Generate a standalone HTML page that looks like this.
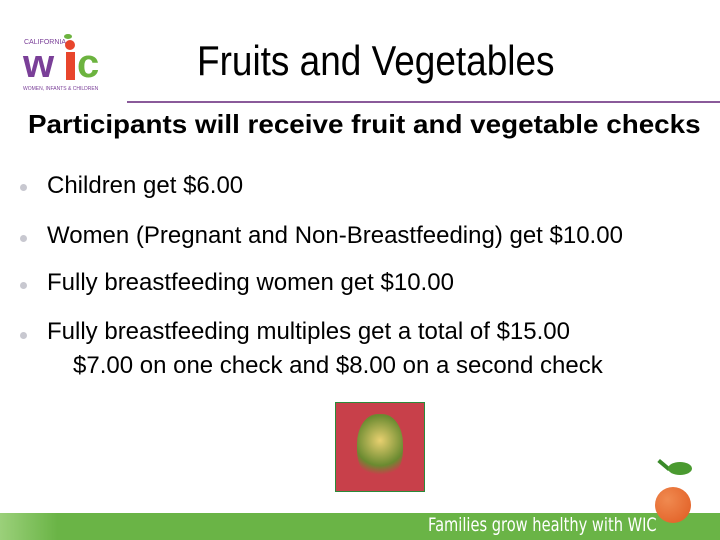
<!DOCTYPE html>
<html><head><meta charset="utf-8"><style>
body{margin:0;width:720px;height:540px;position:relative;overflow:hidden;background:#fff;font-family:"Liberation Sans",sans-serif}
.a{position:absolute;white-space:nowrap}
.b{font-size:24px;color:#000;line-height:28px}
.dot{position:absolute;width:7px;height:7px;border-radius:50%;background:#c8c8d0}
</style></head><body>
<div class="a" style="left:20px;top:30px;width:95px;height:62px">
 <div class="a" style="left:4px;top:9px;font-size:7px;color:#7a3f98">CALIFORNIA</div>
 <div class="a" style="left:44px;top:4px;width:8px;height:5px;background:#6cb33f;border-radius:50%"></div>
 <div class="a" style="left:45px;top:10px;width:10px;height:10px;background:#e8452c;border-radius:50%"></div>
 <div class="a" style="left:3px;top:14px;font-size:40px;font-weight:bold;line-height:40px;color:#7a3f98;letter-spacing:-2px">w</div>
 <div class="a" style="left:46px;top:22px;width:9px;height:28px;background:#e8452c"></div>
 <div class="a" style="left:57px;top:14px;font-size:40px;font-weight:bold;line-height:40px;color:#6cb33f">c</div>
 <div class="a" style="left:3px;top:56px;font-size:5px;color:#7a3f98">WOMEN, INFANTS &amp; CHILDREN</div>
</div>
<div class="a" style="left:197px;top:36px;font-size:42px;line-height:50px;color:#000;transform:scaleX(0.88);transform-origin:left">Fruits and Vegetables</div>
<div class="a" style="left:127px;top:101px;width:593px;height:2px;background:#8a5a9a"></div>
<div class="a" style="left:28px;top:108px;font-size:26px;font-weight:bold;line-height:32px;transform:scaleX(1.07);transform-origin:left">Participants will receive fruit and vegetable checks</div>
<div class="dot" style="left:20px;top:184px"></div><div class="a b" style="left:47px;top:172px">Children get $6.00</div>
<div class="dot" style="left:20px;top:235px"></div><div class="a b" style="left:47px;top:222px">Women (Pregnant and Non-Breastfeeding) get $10.00</div>
<div class="dot" style="left:20px;top:282px"></div><div class="a b" style="left:47px;top:269px">Fully breastfeeding women get $10.00</div>
<div class="dot" style="left:20px;top:332px"></div><div class="a b" style="left:47px;top:318px">Fully breastfeeding multiples get a total of $15.00</div>
<div class="a b" style="left:73px;top:352px">$7.00 on one check and $8.00 on a second check</div>
<div class="a" style="left:335px;top:402px;width:90px;height:90px;background:#c8404a;box-shadow:inset 0 0 0 1px #2a8a3a">
 <div class="a" style="left:22px;top:12px;width:46px;height:66px;border-radius:45%;background:radial-gradient(circle at 50% 40%,#e8d070,#6a8a30 55%,#c8404a 75%)"></div>
</div>
<div class="a" style="left:0;top:513px;width:720px;height:27px;background:linear-gradient(90deg,#9bd07a 0%,#6ab446 8%,#6ab446 100%)"></div>
<div class="a" style="left:428px;top:514px;font-size:19px;color:#fff;font-family:'DejaVu Sans',sans-serif;transform:scaleX(0.77);transform-origin:left">Families grow healthy with WIC</div>
<div class="a" style="left:657px;top:463px;width:14px;height:4px;background:#3a8a2a;transform:rotate(40deg)"></div>
<div class="a" style="left:668px;top:462px;width:24px;height:13px;border-radius:50%;background:#4a9a30"></div>
<div class="a" style="left:655px;top:487px;width:36px;height:36px;border-radius:50%;background:radial-gradient(circle at 35% 35%,#f08a50,#e05a20)"></div>
</body></html>
